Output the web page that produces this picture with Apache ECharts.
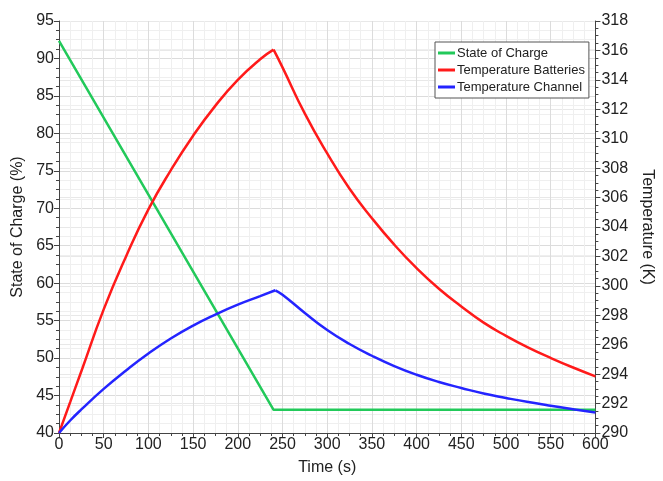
<!DOCTYPE html>
<html>
<head>
<meta charset="utf-8">
<script src="https://cdn.jsdelivr.net/npm/echarts@6/dist/echarts.min.js"></script>
<style>html,body{margin:0;padding:0;background:#fff;}#c{width:663px;height:481px;}</style>
</head>
<body>
<div id="c"></div>
<script>
// Time ticks (s)
const xTicks = [0, 50, 100, 150, 200, 250, 300, 350, 400, 450, 500, 550, 600];

// State of Charge (%)
const socTime = [0, 240, 600];
const socValues = [92.35, 43.1, 43.1];

// Temperature Batteries (K): heating phase, then cooling phase
const battRiseTime = [0, 12.5, 25, 50, 75, 100, 125, 150, 175, 200, 225, 240];
const battRiseValues = [290, 292.1, 294.2, 298.4, 302.0, 305.2, 307.85, 310.2, 312.25, 314.0, 315.4, 316.05];
const battFallTime = [240, 250, 275, 300, 325, 350, 375, 400, 425, 450, 475, 500, 525, 550, 575, 600];
const battFallValues = [316.05, 314.85, 311.7, 309.0, 306.6, 304.6, 302.8, 301.2, 299.8, 298.6, 297.5, 296.6, 295.8, 295.1, 294.45, 293.85];

// Temperature Channel (K): heating phase, then cooling phase
const chanRiseTime = [0, 12.5, 25, 50, 75, 100, 125, 150, 175, 200, 225, 242];
const chanRiseValues = [290, 290.85, 291.6, 293.0, 294.25, 295.4, 296.42, 297.3, 298.05, 298.72, 299.3, 299.7];
const chanFallTime = [242, 250, 275, 300, 325, 350, 375, 400, 425, 450, 475, 500, 525, 550, 575, 600];
const chanFallValues = [299.7, 299.4, 298.16, 297.0, 296.05, 295.25, 294.55, 293.96, 293.47, 293.06, 292.68, 292.38, 292.1, 291.85, 291.62, 291.4];

const zip = (a, b) => a.map((v, i) => [v, b[i]]);
const FONT = "'Liberation Sans', Arial, sans-serif";
const axisCol = '#444';
const GREEN = '#22c95a', RED = '#ff1a1a', BLUE = '#2424ff';

function lineSeries(name, axis, data, color, smooth) {
  return {
    name: name, type: 'line', yAxisIndex: axis, data: data,
    showSymbol: false, symbol: 'none', smooth: smooth,
    lineStyle: {color: color, width: 2.5}, itemStyle: {color: color}
  };
}

const chart = echarts.init(document.getElementById('c'), null, {renderer: 'canvas'});
chart.setOption({
  animation: false,
  backgroundColor: '#fff',
  textStyle: {fontFamily: FONT},
  grid: {left: 59, right: 57, top: 21, bottom: 47, containLabel: false},
  legend: {
    orient: 'vertical', left: 435, top: 42,
    backgroundColor: '#fff', borderColor: '#555', borderWidth: 1,
    padding: [4, 4, 4, 3], itemGap: 3, itemWidth: 17, itemHeight: 3,
    icon: 'rect',
    textStyle: {fontFamily: FONT, fontSize: 13, color: '#222', padding: [0, 0, 0, -3], lineHeight: 14},
    data: ['State of Charge', 'Temperature Batteries', 'Temperature Channel']
  },
  xAxis: {
    type: 'value', min: 0, max: 600, interval: 50,
    name: 'Time (s)', nameLocation: 'middle', nameGap: 27,
    nameTextStyle: {fontFamily: FONT, fontSize: 16, color: '#222'},
    axisLine: {lineStyle: {color: axisCol, width: 1}},
    axisTick: {show: true, inside: false, length: 5, lineStyle: {color: axisCol}},
    minorTick: {show: true, splitNumber: 4, length: 3, lineStyle: {color: axisCol}},
    axisLabel: {fontFamily: FONT, fontSize: 16, color: '#222', margin: 4,
      formatter: v => xTicks.includes(v) ? String(v) : ''},
    splitLine: {show: true, lineStyle: {color: '#dcdcdc', width: 1}},
    minorSplitLine: {show: true, lineStyle: {color: '#efefef', width: 1}}
  },
  yAxis: [{
    type: 'value', min: 40, max: 95, interval: 5, position: 'left',
    name: 'State of Charge (%)', nameLocation: 'middle', nameGap: 32,
    nameTextStyle: {fontFamily: FONT, fontSize: 16, color: '#222'},
    axisLine: {show: true, lineStyle: {color: axisCol, width: 1}},
    axisTick: {show: true, inside: false, length: 5, lineStyle: {color: axisCol}},
    minorTick: {show: true, splitNumber: 4, length: 3, lineStyle: {color: axisCol}},
    axisLabel: {fontFamily: FONT, fontSize: 16, color: '#222', margin: 5},
    splitLine: {show: true, lineStyle: {color: '#dcdcdc', width: 1}},
    minorSplitLine: {show: true, lineStyle: {color: '#efefef', width: 1}}
  }, {
    type: 'value', min: 290, max: 318, interval: 2, position: 'right',
    name: 'Temperature (K)', nameLocation: 'middle', nameGap: 43, nameRotate: -90,
    nameTextStyle: {fontFamily: FONT, fontSize: 16, color: '#222'},
    axisLine: {show: true, lineStyle: {color: axisCol, width: 1}},
    axisTick: {show: true, inside: false, length: 5, lineStyle: {color: axisCol}},
    minorTick: {show: true, splitNumber: 4, length: 3, lineStyle: {color: axisCol}},
    axisLabel: {fontFamily: FONT, fontSize: 16, color: '#222', margin: 6},
    splitLine: {show: true, lineStyle: {color: '#e8e8e8', width: 1}},
    minorSplitLine: {show: false}
  }],
  series: [
    lineSeries('State of Charge', 0, zip(socTime, socValues), GREEN, false),
    lineSeries('Temperature Batteries', 1, zip(battRiseTime, battRiseValues), RED, 0.5),
    lineSeries('Temperature Batteries', 1, zip(battFallTime, battFallValues), RED, 0.5),
    lineSeries('Temperature Channel', 1, zip(chanRiseTime, chanRiseValues), BLUE, 0.5),
    lineSeries('Temperature Channel', 1, zip(chanFallTime, chanFallValues), BLUE, 0.5)
  ]
});
</script>
</body>
</html>
